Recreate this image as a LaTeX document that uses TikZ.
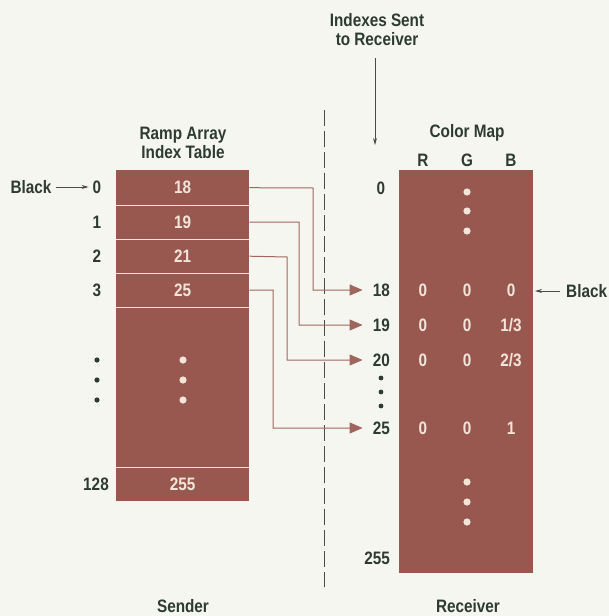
\documentclass[tikz,border=0pt]{standalone}
\usepackage{fontspec}
\setmainfont{Liberation Sans}[FakeStretch=0.85]
\usetikzlibrary{arrows.meta}
\definecolor{bg}{HTML}{F5F6F0}
\definecolor{tbl}{HTML}{985850}
\definecolor{intext}{HTML}{F3E4D8}
\definecolor{ink}{HTML}{2E3B30}
\definecolor{conncol}{HTML}{A0665E}
\definecolor{dashcol}{HTML}{4A4A4A}
\tikzset{
  lbl/.style={font=\fontsize{18}{20}\selectfont\bfseries, text=ink, inner sep=0pt},
  intxt/.style={font=\fontsize{18}{20}\selectfont\bfseries, text=intext, inner sep=0pt},
  rowcell/.style={fill=tbl, minimum width=133pt, inner sep=0pt, anchor=north west},
  sep/.style={draw=intext, line width=1.5pt},
  conn/.style={draw=conncol, line width=1pt, -{Triangle[length=13pt,width=11pt]}, shorten >=10pt},
  thinarrow/.style={draw=dashcol, line width=0.8pt, -{Stealth[length=7pt,width=4pt]}},
  indot/.style={fill=intext, draw=none},
  blkdot/.style={fill=ink, draw=none},
}
\begin{document}
\begin{tikzpicture}[x=1pt,y=-1pt]
\useasboundingbox (0,0) rectangle (609,616);
\fill[bg] (0,0) rectangle (609,616);

% dashed separator
\coordinate (dtop) at (324,110);
\coordinate (dbot) at (324,587);
\draw[dashcol, line width=0.9pt, dash pattern=on 16pt off 5pt] (dtop) -- (dbot);

% ---------------- left table ----------------
\node[lbl, align=center] (rtitle) at (183,143) {Ramp Array\\[-1pt]Index Table};
\node[rowcell, minimum height=35pt] (l0) at (116,170) {};
\node[rowcell, minimum height=34pt] (l1) at (116,205) {};
\node[rowcell, minimum height=34pt] (l2) at (116,239) {};
\node[rowcell, minimum height=34pt] (l3) at (116,273) {};
\node[rowcell, minimum height=160pt] (lm) at (116,307) {};
\node[rowcell, minimum height=34pt] (l128) at (116,467) {};
\draw[sep] (l0.south west) -- (l0.south east);
\draw[sep] (l1.south west) -- (l1.south east);
\draw[sep] (l2.south west) -- (l2.south east);
\draw[sep] (l3.south west) -- (l3.south east);
\draw[sep] (lm.south west) -- (lm.south east);

\node[intxt] (t0) at (l0.center) {18};
\node[intxt] (t1) at (l1.center) {19};
\node[intxt] (t2) at (l2.center) {21};
\node[intxt] (t3) at (l3.center) {25};
\node[intxt] (t128) at (l128.center) {255};
\foreach \yy in {360,380,400} {
  \fill[indot] (183,\yy) circle (3.6pt);
  \fill[blkdot] (97,\yy) circle (2.6pt);
}

\node[lbl] (i0) at (97,187) {0};
\node[lbl] (i1) at (97,222) {1};
\node[lbl] (i2) at (97,256) {2};
\node[lbl] (i3) at (97,290) {3};
\node[lbl] (i128) at (96,484) {128};
\node[lbl] (blackL) at (31,187) {Black};
\draw[thinarrow] (blackL.east) ++(4,0) coordinate (bls) -- ([xshift=-4pt]i0.west);

\node[lbl] (sender) at (183,606) {Sender};

% ---------------- right table ----------------
\node[lbl, align=center] (idx) at (377,30) {Indexes Sent\\[-1pt]to Receiver};
\coordinate (idxtip) at (375,145);
\draw[thinarrow] (375,58) coordinate (idxs) -- (idxtip);

\node[lbl] (cmtitle) at (467,133) {Color Map};
\node[lbl] (hR) at (423,160) {R};
\node[lbl] (hG) at (467,160) {G};
\node[lbl] (hB) at (511,160) {B};
\node[fill=tbl, minimum width=134pt, minimum height=403pt, inner sep=0pt, anchor=north west] (cm) at (399,170) {};

\node[lbl] (c0) at (381,188) {0};
\node[lbl, anchor=east] (c18) at (390,290) {18};
\node[lbl, anchor=east] (c19) at (390,325) {19};
\node[lbl, anchor=east] (c20) at (390,360) {20};
\node[lbl, anchor=east] (c25) at (390,428) {25};
\node[lbl, anchor=east] (c255) at (390,558) {255};
\foreach \yy in {378,392,406} { \fill[blkdot] (381,\yy) circle (2.4pt); }
\foreach \yy in {192,211,231,482,502,522} { \fill[indot] (467,\yy) circle (3.6pt); }

\foreach \yy/\b [count=\k] in {290/0,325/1\slash 3,360/2\slash 3,428/1} {
  \node[intxt] (vr\k) at (423,\yy) {0};
  \node[intxt] (vg\k) at (467,\yy) {0};
  \node[intxt] (vb\k) at (511,\yy) {\b};
}

\node[lbl, anchor=west] (blackR) at (566,291) {Black};
\draw[thinarrow] ([xshift=-6pt]blackR.west) -- (535,291) coordinate (brt);

\node[lbl] (receiver) at (468,606) {Receiver};

% ---------------- connectors ----------------
\draw[conn] (l0.east |- t0) -- (313,188) |- (c18.west);
\draw[conn] (l1.east |- t1) -- (299,222) |- (c19.west);
\draw[conn] (l2.east |- t2) -- (287,257) |- (c20.west);
\draw[conn] (l3.east |- t3) -- (273,290) |- (c25.west);
\end{tikzpicture}
\end{document}
